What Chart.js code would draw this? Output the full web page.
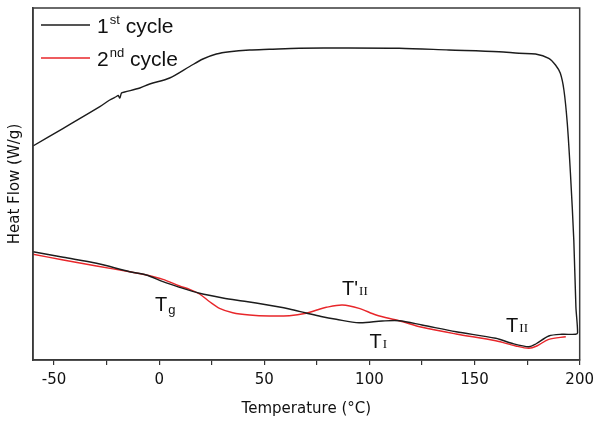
<!DOCTYPE html>
<html>
<head>
<meta charset="utf-8">
<script src="https://cdn.jsdelivr.net/npm/chart.js@4.4.1/dist/chart.umd.min.js"></script>
<style>
  html, body { margin: 0; padding: 0; background: #fff; }
  #wrap { width: 600px; height: 421px; }
</style>
</head>
<body>
<div id="wrap"><canvas id="dsc-chart"></canvas></div>
<script>
// 1st cycle: heating trace (lower, left to right) then cooling trace (upper, right to left)
const cycle1Temp = [-60, -45.6, -29.8, -14.0, -6.1, 1.8, 9.7, 19.2, 30.3, 39.6, 46.1, 55.8, 61.9, 69.9, 77.0,
  84.2, 95.1, 106.1, 114.1, 125.0, 141.2, 160.1, 167.7, 175.8, 179.1, 185.3, 191.5, 198.1, 199.0,
  198.2, 197.2, 195.6, 194.1, 192.5, 190.8, 188.5, 185.3, 179.0, 171.1, 161.6, 137.8, 114.1, 90.0,
  66.7, 52.4, 43.0, 33.5, 27.2, 20.8, 14.5, 5.0, -4.5, -9.2, -16.4, -17.9, -18.7, -19.5, -20.3,
  -23.5, -28.2, -45.6, -60];
const cycle1Flow = [108.3, 102.7, 96.7, 88.3, 85, 78.3, 72.7, 66.7, 62, 59, 57, 53.5, 51, 47, 43.5,
  40.7, 37.3, 39, 39.3, 35, 28.3, 21.7, 16.7, 13.3, 16, 24, 25.7, 25.7, 27.3,
  53.3, 120, 186.7, 236.7, 270, 286.7, 295, 301.7, 306, 306.7, 308.3, 310, 311.7, 312,
  311.7, 310.7, 310, 308.3, 306, 301, 293.5, 282, 276, 272, 268, 267, 262, 264.5, 263.5,
  260, 253.3, 231.7, 214];

// 2nd cycle: heating trace only
const cycle2Temp = [-60, -45.6, -29.8, -14.0, -6.1, 1.8, 9.7, 14.5, 19.2, 24.0, 28.7, 35.0, 43.0, 52.4,
  61.9, 69.9, 75.0, 79.5, 87.1, 95.1, 103.2, 114.1, 125.0, 141.2, 160.1, 169.6, 175.8, 179.6, 185.3, 193.4];
const cycle2Flow = [105.7, 100, 94, 88.3, 85, 80.7, 74, 70.7, 66, 58.3, 51.7, 47.3, 45, 44,
  44.3, 46.7, 50, 52.7, 55, 51.7, 45, 39.3, 32.7, 26, 19.3, 14, 11.7, 14, 20.7, 23.3];

const xTickLabels = [-50, 0, 50, 100, 150, 200];
const seriesNames = [['1', 'st', ' cycle'], ['2', 'nd', ' cycle']];
const seriesColors = ['#1c1c1c', '#e8262a'];

// transition labels: main letter, subscript, anchor temperature / heat flow
const transitionMain = ['T', "T'", 'T', 'T'];
const transitionSub = ['g', 'II', 'I', 'II'];
const transitionTemp = [-2, 87, 100, 165];
const transitionFlow = [49, 65, 12, 28];

function toPoints(xs, ys) {
  return xs.map((x, i) => ({ x: x, y: ys[i] }));
}

// frame, legend and transition labels
const decorations = {
  id: 'decorations',
  afterDraw(chart) {
    const ctx = chart.ctx;
    const area = chart.chartArea;
    const xs = chart.scales.x;
    const ys = chart.scales.y;
    ctx.save();

    ctx.strokeStyle = '#3a3a3a';
    ctx.lineWidth = 1.5;
    ctx.strokeRect(area.left, area.top, area.right - area.left, area.bottom - area.top);

    // legend
    ctx.textBaseline = 'alphabetic';
    seriesNames.forEach((parts, i) => {
      const y = area.top + 17 + i * 33;
      ctx.strokeStyle = seriesColors[i];
      ctx.lineWidth = 1.5;
      ctx.beginPath();
      ctx.moveTo(area.left + 8, y);
      ctx.lineTo(area.left + 57, y);
      ctx.stroke();

      ctx.fillStyle = '#111';
      let x = area.left + 64;
      ctx.font = '21px "Liberation Sans", Arial, sans-serif';
      ctx.fillText(parts[0], x, y + 8);
      x += ctx.measureText(parts[0]).width + 1;
      ctx.font = '13px "Liberation Sans", Arial, sans-serif';
      ctx.fillText(parts[1], x, y - 1);
      x += ctx.measureText(parts[1]).width;
      ctx.font = '21px "Liberation Sans", Arial, sans-serif';
      ctx.fillText(parts[2], x, y + 8);
    });

    // transitions
    transitionMain.forEach((main, i) => {
      const x = xs.getPixelForValue(transitionTemp[i]);
      const y = ys.getPixelForValue(transitionFlow[i]);
      ctx.fillStyle = '#111';
      ctx.font = '20px "Liberation Sans", Arial, sans-serif';
      ctx.fillText(main, x, y);
      const w = ctx.measureText(main).width;
      if (transitionSub[i] === 'g') {
        ctx.font = '13px "Liberation Sans", Arial, sans-serif';
        ctx.fillText(transitionSub[i], x + w + 1, y + 3);
      } else {
        ctx.font = '13px "Liberation Serif", "Times New Roman", serif';
        ctx.fillText(transitionSub[i], x + w + 1, y);
      }
    });

    ctx.restore();
  }
};

const ctx = document.getElementById('dsc-chart').getContext('2d');
const chart = new Chart(ctx, {
  type: 'scatter',
  data: {
    datasets: [
      {
        label: '1st cycle',
        data: toPoints(cycle1Temp, cycle1Flow),
        showLine: true,
        borderColor: seriesColors[0],
        borderWidth: 1.4,
        pointRadius: 0,
        tension: 0.3
      },
      {
        label: '2nd cycle',
        data: toPoints(cycle2Temp, cycle2Flow),
        showLine: true,
        borderColor: seriesColors[1],
        borderWidth: 1.4,
        pointRadius: 0,
        tension: 0.3
      }
    ]
  },
  options: {
    responsive: true,
    maintainAspectRatio: false,
    animation: false,
    layout: { padding: { top: 8, right: 19, left: 0, bottom: 0 } },
    plugins: {
      legend: { display: false },
      tooltip: { enabled: false }
    },
    scales: {
      x: {
        type: 'linear',
        min: -60,
        max: 200,
        afterFit(scale) { scale.height = 61; },
        ticks: {
          stepSize: 25,
          includeBounds: false,
          autoSkip: false,
          maxRotation: 0,
          padding: 6,
          color: '#111',
          font: { family: 'DejaVu Sans', size: 15 },
          callback: (v) => xTickLabels.includes(v) ? String(v) : ''
        },
        grid: { display: true, drawOnChartArea: false, drawTicks: true, tickLength: 5, color: '#333', lineWidth: 1.2 },
        border: { display: true, color: '#3a3a3a', width: 1.5 },
        title: {
          display: true,
          text: 'Temperature (°C)',
          color: '#111',
          font: { family: 'DejaVu Sans', size: 15 },
          padding: { top: 0, bottom: 3 }
        }
      },
      y: {
        min: 0,
        max: 352,
        afterFit(scale) { scale.width = 33; },
        ticks: { display: false },
        grid: { display: false },
        border: { display: true, color: '#3a3a3a', width: 1.5 },
        title: {
          display: true,
          text: 'Heat Flow (W/g)',
          color: '#111',
          font: { family: 'DejaVu Sans', size: 15 },
          padding: { top: 6, bottom: 0 }
        }
      }
    }
  },
  plugins: [decorations]
});
</script>
</body>
</html>
